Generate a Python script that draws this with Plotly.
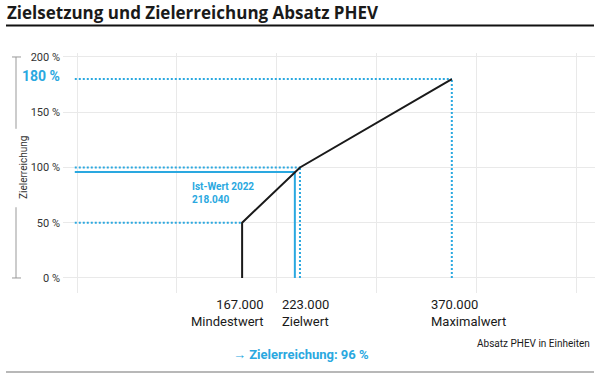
import plotly.graph_objects as go

# ---- data ----
curve_x = [167000, 167000, 223000, 370000]          # Absatz PHEV (Einheiten)
curve_y = [0, 50, 100, 180]                          # Zielerreichung in %
ist_wert = 218040
ist_pct = 96
mindest, ziel, maximal = 167000, 223000, 370000
y_ticks = [0, 50, 100, 150, 200]
y_tick_text = ["0 %", "50 %", "100 %", "150 %", "200 %"]
x_labels = [("167.000<br>Mindestwert", 167000), ("223.000<br>Zielwert", 223000), ("370.000<br>Maximalwert", 370000)]

BLUE = "#2aa8e0"
DARK = "#1a1a1a"
GRID = "#e9e9e9"
LINE_START = 5000
FONT = "Roboto"
DOT = "2px,2px"

fig = go.Figure()

def seg(xs, ys, dash, color=BLUE, width=2):
    fig.add_trace(go.Scatter(x=xs, y=ys, mode="lines", hoverinfo="skip", showlegend=False,
                             line=dict(color=color, width=width, dash=dash)))

# reference dotted lines
seg([LINE_START, mindest], [curve_y[1], curve_y[1]], DOT)
seg([LINE_START, ziel], [curve_y[2], curve_y[2]], DOT)
seg([ziel, ziel], [0, curve_y[2]], DOT)
seg([LINE_START, maximal], [curve_y[3], curve_y[3]], DOT)
seg([maximal, maximal], [0, curve_y[3]], DOT)
# actual value solid
seg([LINE_START, ist_wert], [ist_pct, ist_pct], "solid")
seg([ist_wert, ist_wert], [0, ist_pct], "solid")
# main curve
seg(curve_x, curve_y, "solid", color=DARK, width=2)

fig.update_layout(
    width=600, height=381,
    margin=dict(l=63, r=5, t=53, b=88),
    paper_bgcolor="white", plot_bgcolor="white",
    font=dict(family=FONT, color=DARK),
    xaxis=dict(range=[-6400, 508600], tick0=7150, dtick=96800, showticklabels=False,
               showgrid=True, gridcolor=GRID, gridwidth=1, zeroline=False, ticks="", fixedrange=True),
    yaxis=dict(range=[-13.6, 203.6], tickvals=y_ticks, ticktext=y_tick_text,
               showgrid=True, gridcolor=GRID, gridwidth=1, zeroline=False, ticks="",
               ticklabelstandoff=2, tickfont=dict(size=11, color="#333333", family=FONT)),
)

# title and separators
fig.add_annotation(text="<b>Zielsetzung und Zielerreichung Absatz PHEV</b>", xref="paper", yref="paper",
                   x=(5-63)/532, y=(293-13)/240, xanchor="left", yanchor="middle", showarrow=False,
                   font=dict(size=17, color=DARK, family="Open Sans"))
fig.add_shape(type="line", xref="paper", yref="paper", x0=(6-63)/532, x1=(594-63)/532,
              y0=(293-25.5)/240, y1=(293-25.5)/240, line=dict(color="#111111", width=2))
fig.add_shape(type="line", xref="paper", yref="paper", x0=(6-63)/532, x1=(594-63)/532,
              y0=(293-372)/240, y1=(293-372)/240, line=dict(color="#b8b8b8", width=2))

# y-axis title with bar
fig.add_annotation(text="Zielerreichung", xref="paper", yref="y", x=(16-63)/532, y=100,
                   textangle=-90, showarrow=False, font=dict(size=10, color="#333333", family=FONT))
bx = (16-63)/532
fig.add_shape(type="line", xref="paper", yref="y", x0=bx, x1=bx, y0=200, y1=135, line=dict(color="#999999", width=1))
fig.add_shape(type="line", xref="paper", yref="y", x0=bx, x1=bx, y0=64, y1=0, line=dict(color="#999999", width=1))
fig.add_shape(type="line", xref="paper", yref="y", x0=(12-63)/532, x1=(21-63)/532, y0=200, y1=200, line=dict(color="#999999", width=1))
fig.add_shape(type="line", xref="paper", yref="y", x0=(12-63)/532, x1=(21-63)/532, y0=0, y1=0, line=dict(color="#999999", width=1))

# 180 % label
fig.add_annotation(text="<b>180 %</b>", xref="paper", yref="y", x=0, y=curve_y[3], xanchor="right", yshift=3,
                   xshift=-1, showarrow=False, font=dict(size=14, color=BLUE, family=FONT))

# Ist-Wert label
fig.add_annotation(text="<b>Ist-Wert 2022<br>218.040</b>", x=ist_wert, y=ist_pct, xanchor="left", yanchor="top",
                   align="left", xshift=-105, yshift=-7, showarrow=False,
                   font=dict(size=10, color=BLUE, family=FONT))

# x labels
shifts = [(24, "right"), (-20, "left"), (-23, "left")]
for (txt, xv), (sh, anc) in zip(x_labels, shifts):
    fig.add_annotation(text=txt, x=xv, xref="x", yref="paper", y=(293-295)/240, xanchor=anc, yanchor="top",
                       align=anc, xshift=sh, showarrow=False, font=dict(size=13, color=DARK, family=FONT))

fig.add_annotation(text="Absatz PHEV in Einheiten", xref="paper", yref="paper", x=(592-63)/532, y=(293-343)/240,
                   xanchor="right", yanchor="middle", showarrow=False, font=dict(size=10, color=DARK, family=FONT))
fig.add_annotation(text="<b>→ Zielerreichung: 96 %</b>", xref="paper", yref="paper", x=(301-63)/532,
                   y=(293-354)/240, xanchor="center", yanchor="middle", showarrow=False,
                   font=dict(size=13, color=BLUE, family=FONT))

fig.write_html("out.html", config={"displayModeBar": False},
               post_script="document.body.style.margin='0';document.body.style.overflow='hidden';")
